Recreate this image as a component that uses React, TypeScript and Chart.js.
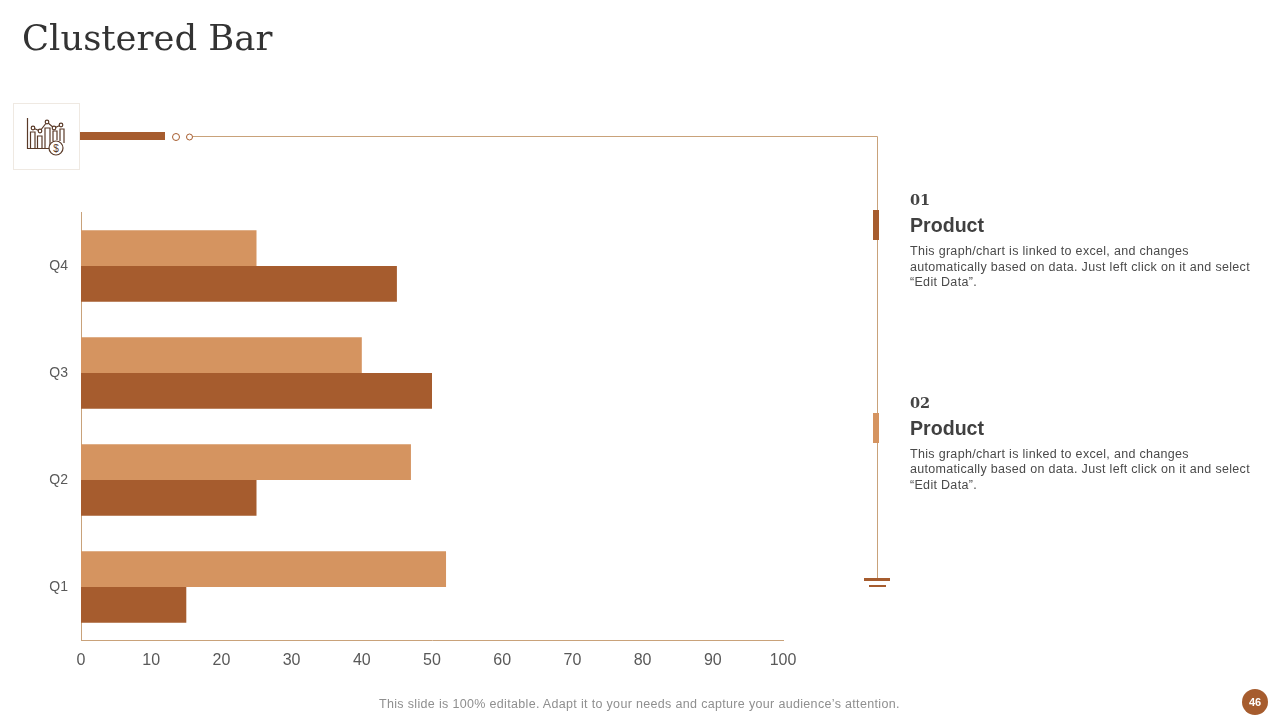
import React, { useEffect, useRef } from "react";
import { Chart, registerables } from "chart.js";

Chart.register(...registerables);

const categories = ["Q1", "Q2", "Q3", "Q4"];
const product01Values = [15, 25, 50, 45];
const product02Values = [52, 47, 40, 25];
const seriesNames = ["01 Product", "02 Product"];
const DARK = "#a65c2e";
const LIGHT = "#d59460";
const LINE = "#c9a27a";
const description = [
  "This graph/chart is linked to excel, and changes",
  "automatically based on data. Just left click on it and select",
  "\u201CEdit Data\u201D.",
];

const abs = (left: number, top: number, extra: React.CSSProperties = {}): React.CSSProperties => ({
  position: "absolute",
  left,
  top,
  whiteSpace: "nowrap",
  ...extra,
});

function Entry({ top, num }: { top: number; num: string }) {
  return (
    <>
      <div style={abs(910, top + 1, { fontFamily: "'DejaVu Serif'", fontWeight: 700, fontSize: 14.5, lineHeight: "20px", color: "#444" })}>{num}</div>
      <div style={abs(910, top + 23, { fontFamily: "'Liberation Sans'", fontWeight: 700, fontSize: 19.6, lineHeight: "26px", color: "#404040" })}>Product</div>
      {description.map((t, i) => (
        <div key={i} style={abs(910, top + 54 + i * 15.7, { fontFamily: "'Liberation Sans'", fontSize: 12.5, lineHeight: "16px", color: "#4a4a4a", letterSpacing: 0.31 })}>{t}</div>
      ))}
    </>
  );
}

export default function App() {
  const ref = useRef<HTMLCanvasElement>(null);
  useEffect(() => {
    document.body.style.margin = "0";
    const chart = new Chart(ref.current!, {
      type: "bar",
      data: {
        labels: categories,
        datasets: [
          { label: seriesNames[1], data: product02Values, backgroundColor: LIGHT, categoryPercentage: 0.67, barPercentage: 1 },
          { label: seriesNames[0], data: product01Values, backgroundColor: DARK, categoryPercentage: 0.67, barPercentage: 1 },
        ],
      },
      options: {
        indexAxis: "y",
        animation: false,
        responsive: false,
        layout: { padding: { top: 212.5, right: 497, left: 0, bottom: 0 } },
        plugins: { legend: { display: false }, tooltip: { enabled: false } },
        scales: {
          x: {
            min: 0,
            max: 100,
            grid: { display: false, drawTicks: false },
            border: { color: LINE, width: 1 },
            afterFit: (s: any) => { s.height = 79.5; },
            ticks: { stepSize: 10, maxRotation: 0, padding: 10, color: "#595959", font: { family: "'Liberation Sans'", size: 16 } },
          },
          y: {
            reverse: true,
            grid: { display: false, drawTicks: false },
            border: { color: LINE, width: 1 },
            afterFit: (s: any) => { s.width = 81; },
            ticks: { padding: 13, color: "#595959", font: { family: "'Liberation Sans'", size: 14 } },
          },
        },
      },
    });
    return () => chart.destroy();
  }, []);

  return (
    <div style={{ position: "relative", width: 1280, height: 720, overflow: "hidden", background: "#fff" }}>
      <canvas ref={ref} width={1280} height={720} style={{ position: "absolute", left: 0, top: 0, display: "block" }} />
      <div style={abs(22, 14, { fontFamily: "'DejaVu Serif'", fontSize: 35.4, lineHeight: "48px", color: "#333" })}>Clustered Bar</div>
      <svg width={1280} height={720} style={{ position: "absolute", left: 0, top: 0, pointerEvents: "none" }}>
        <rect x={13.5} y={103.5} width={66} height={66} fill="#fff" stroke="#efe9e2" />
        <rect x={80} y={132} width={85} height={8} fill={DARK} />
        <circle cx={176} cy={137} r={3.5} fill="#fff" stroke={DARK} />
        <circle cx={189.5} cy={137} r={3} fill="#fff" stroke={DARK} />
        <path d="M193 136.5H877.5V580" fill="none" stroke={LINE} />
        <rect x={873} y={210} width={6} height={30} fill={DARK} />
        <rect x={873} y={413} width={6} height={30} fill={LIGHT} />
        <rect x={864} y={578} width={26} height={3} fill={DARK} />
        <rect x={869} y={585} width={17} height={2} fill={DARK} />
        <g fill="none" stroke="#5a3a28" strokeWidth={1.2}>
          <path d="M27.5 118V148.5H50" />
          <path d="M30.5 148V132H35V148M37.5 148V136H42V148M45 148V128H50V148M53 141V131H57V140M60 141V129H64V143" />
          <path d="M33 128L40 131L47 122L54 128L61 125" />
          <circle cx={33} cy={128} r={1.8} fill="#fff" />
          <circle cx={40} cy={131} r={1.8} fill="#fff" />
          <circle cx={47} cy={122} r={1.8} fill="#fff" />
          <circle cx={54} cy={128} r={1.8} fill="#fff" />
          <circle cx={61} cy={125} r={1.8} fill="#fff" />
          <circle cx={56} cy={148} r={7} fill="#fff" />
        </g>
        <text x={56} y={151.5} textAnchor="middle" fontFamily="'Liberation Sans'" fontSize={10} fill="#5a3a28">$</text>
        <circle cx={1255} cy={702} r={13} fill={DARK} />
      </svg>
      <Entry top={189} num="01" />
      <Entry top={391.5} num="02" />
      <div style={abs(379, 696, { fontFamily: "'Liberation Sans'", fontSize: 12.5, lineHeight: "16px", color: "#8f8f8f", letterSpacing: 0.33 })}>
        This slide is 100% editable. Adapt it to your needs and capture your audience’s attention.
      </div>
      <div style={abs(1242, 694, { width: 26, textAlign: "center", fontFamily: "'Liberation Sans'", fontWeight: 700, fontSize: 11, lineHeight: "16px", color: "#fff" })}>46</div>
    </div>
  );
}
